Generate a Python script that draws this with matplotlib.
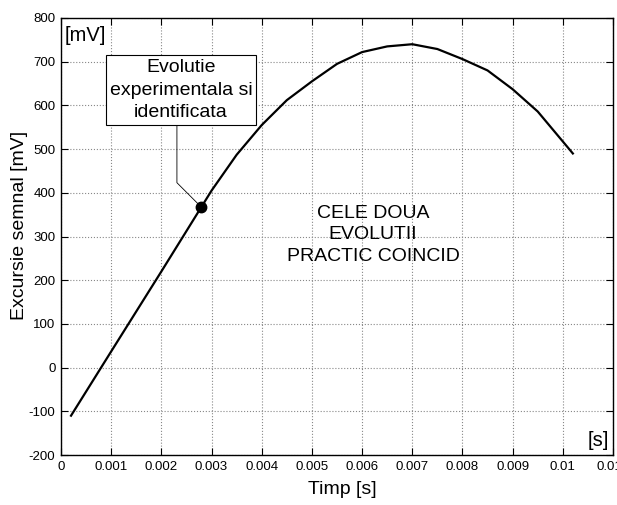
import matplotlib.pyplot as plt

plt.rcParams['font.family'] = ['Liberation Sans', 'DejaVu Sans']
plt.rcParams['axes.unicode_minus'] = False

# date
timp = [0.0002, 0.001, 0.002, 0.0028, 0.003, 0.0035, 0.004, 0.0045, 0.005,
        0.0055, 0.006, 0.0065, 0.007, 0.0075, 0.008, 0.0085, 0.009, 0.0095,
        0.0102]
excursie = [-110, 37, 220, 368, 405, 487, 555, 612, 655, 695, 722, 735, 740,
            729, 706, 680, 637, 586, 490]
punct_t = 0.00279
punct_v = 368

xticks = [0, 0.001, 0.002, 0.003, 0.004, 0.005, 0.006, 0.007, 0.008, 0.009, 0.01, 0.011]
xtick_labels = ['0', '0.001', '0.002', '0.003', '0.004', '0.005', '0.006',
                '0.007', '0.008', '0.009', '0.01', '0.011']
yticks = [-200, -100, 0, 100, 200, 300, 400, 500, 600, 700, 800]

fig = plt.figure(figsize=(6.17, 5.05), dpi=100)
ax = fig.add_axes([61 / 617, 1 - 455 / 505, 552 / 617, 437 / 505])

ax.plot(timp, excursie, color='black', linewidth=1.6)
ax.plot(punct_t, punct_v, 'o', color='black', markersize=7.5)

ax.set_xlim(0, 0.011)
ax.set_ylim(-200, 800)
ax.set_xticks(xticks)
ax.set_xticklabels(xtick_labels)
ax.set_yticks(yticks)
ax.tick_params(direction='in', top=True, right=True, labelsize=9.5, length=5, pad=4)
ax.grid(True, linestyle=':', color='#888888', linewidth=0.8)
for s in ax.spines.values():
    s.set_linewidth(1.0)

ax.set_xlabel('Timp [s]', fontsize=14)
ax.set_ylabel('Excursie semnal [mV]', fontsize=14)
ax.xaxis.set_label_coords(0.509, -0.06)
ax.yaxis.set_label_coords(-0.06, 0.525)

ax.text(0.00008, 782, '[mV]', fontsize=14.5, va='top', ha='left')
ax.text(0.01093, -188, '[s]', fontsize=14.5, va='bottom', ha='right')

# caseta cu text si linia de legatura
ax.text(0.00239, 635, 'Evolutie\nexperimentala si\nidentificata',
        fontsize=14, ha='center', va='center', linespacing=1.42,
        bbox=dict(boxstyle='square,pad=0.2', fc='white', ec='black', lw=0.8))
ax.annotate('', xy=(punct_t, punct_v), xytext=(0.00231, 553),
            arrowprops=dict(arrowstyle='-', color='black', lw=0.6,
                            connectionstyle='angle,angleA=-90,angleB=135,rad=0',
                            shrinkA=0, shrinkB=3))

ax.text(0.00622, 304, 'CELE DOUA\nEVOLUTII\nPRACTIC COINCID', fontsize=14,
        ha='center', va='center', linespacing=1.36)

fig.savefig('out.png', dpi=100)
